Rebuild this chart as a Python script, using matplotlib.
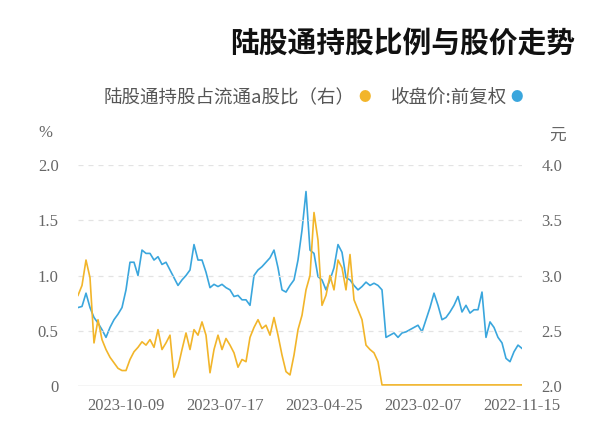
import matplotlib
matplotlib.use("Agg")
import matplotlib.pyplot as plt
import numpy as np

# Chronological data (oldest first); chart is drawn mirrored (time runs right-to-left)
price = [2.34, 2.37, 2.31, 2.22, 2.25, 2.39, 2.44, 2.53, 2.58, 2.44,
         2.85, 2.69, 2.69, 2.66, 2.73, 2.67, 2.81, 2.73, 2.67, 2.62,
         2.60, 2.73, 2.84, 2.71, 2.60, 2.49, 2.55, 2.53, 2.51, 2.49,
         2.48, 2.44, 2.48, 2.46, 2.44, 2.87, 2.91, 2.93, 2.91, 2.94,
         2.90, 2.87, 2.91, 2.96, 2.98, 3.21, 3.28, 3.07, 2.96, 2.87,
         2.96, 2.99, 3.20, 3.23, 3.76, 3.41, 3.14, 2.96, 2.91, 2.85,
         2.87, 3.07, 3.23, 3.16, 3.12, 3.08, 3.05, 3.00, 2.73, 2.78,
         2.78, 2.82, 2.81, 2.87, 2.89, 2.92, 2.90, 2.92, 2.89, 3.03,
         3.14, 3.14, 3.28, 3.05, 3.00, 2.96, 2.91, 2.98, 3.05, 3.12,
         3.10, 3.17, 3.14, 3.20, 3.20, 3.23, 3.00, 3.12, 3.12, 2.87,
         2.71, 2.65, 2.60, 2.53, 2.44, 2.51, 2.57, 2.62, 2.71, 2.84,
         2.72, 2.71]

stake = [0.01] * 36 + [
         0.22, 0.30, 0.33, 0.37, 0.60, 0.69, 0.78, 1.19, 0.87, 1.07,
         1.14, 0.87, 1.00, 0.82, 0.73, 1.32, 1.57, 1.00, 0.87, 0.64,
         0.51, 0.28, 0.10, 0.13, 0.28, 0.46, 0.62, 0.46, 0.55, 0.52,
         0.60, 0.53, 0.44, 0.22, 0.24, 0.17, 0.30, 0.37, 0.43, 0.33,
         0.46, 0.33, 0.12, 0.46, 0.58, 0.46, 0.51, 0.33, 0.48, 0.33,
         0.17, 0.08, 0.46, 0.39, 0.33, 0.51, 0.35, 0.42, 0.37, 0.40,
         0.35, 0.31, 0.24, 0.14, 0.14, 0.16, 0.21, 0.26, 0.33, 0.42,
         0.60, 0.39, 0.98, 1.14, 0.91, 0.82]

date_labels = ["2022-11-15", "2023-02-07", "2023-04-25", "2023-07-17", "2023-10-09"]
left_ticks = [0, 0.5, 1.0, 1.5, 2.0]
left_ticklabels = ["0", "0.5", "1.0", "1.5", "2.0"]
right_ticks = [2.0, 2.5, 3.0, 3.5, 4.0]
right_ticklabels = ["2.0", "2.5", "3.0", "3.5", "4.0"]

title = "陆股通持股比例与股价走势"
legend_price = "收盘价:前复权"
legend_stake = "陆股通持股占流通a股比（右）"

CJK = ["Noto Sans CJK SC", "DejaVu Sans"]
BLUE = "#3aa6dd"
YELLOW = "#f2b52a"
GRID = "#e3e3e3"
LABEL = "#666666"

x = np.arange(len(price))
assert len(price) == len(stake)
tick_step = 24.75
tick_pos = [i * tick_step for i in range(len(date_labels))]

fig = plt.figure(figsize=(6.0, 4.46), dpi=100)
W, H = 600, 446
ax = fig.add_axes([78 / W, (H - 386) / H, 444 / W, 221 / H])
ax2 = ax.twinx()

ax2.plot(x, price, color=BLUE, lw=1.2, solid_joinstyle="round")
ax.plot(x, stake, color=YELLOW, lw=1.2, solid_joinstyle="round")
ax.set_zorder(ax2.get_zorder() + 1)
ax.patch.set_visible(False)

ax.set_xlim(len(price) - 1, 0)
ax.set_ylim(0, 2.0)
ax2.set_ylim(2.0, 4.0)

for a in (ax, ax2):
    for s in a.spines.values():
        s.set_visible(False)
    a.tick_params(length=0)

for yv in left_ticks[1:]:
    ax.axhline(yv, color=GRID, lw=0.9, ls=(0, (4, 4)), zorder=0)
ax.axhline(0, color="#d0d0d0", lw=1.0, zorder=0)

ax.set_yticks(left_ticks)
ax.set_yticklabels(left_ticklabels, family="Liberation Serif", fontsize=12, color=LABEL)
ax.tick_params(axis="y", pad=14)
ax2.set_yticks(right_ticks)
ax2.set_yticklabels(right_ticklabels, family="Liberation Serif", fontsize=12, color=LABEL)
ax2.tick_params(axis="y", pad=14)

ax.set_xticks(tick_pos)
ax.set_xticklabels(date_labels, family="Liberation Serif", fontsize=12, color=LABEL)
ax.tick_params(axis="x", pad=9)

# units
fig.text(45 / W, 1 - 133 / H, "%", family="Liberation Serif", fontsize=12, color=LABEL,
         ha="center", va="center")
fig.text(557 / W, 1 - 135 / H, "元", family=CJK, fontsize=12, color=LABEL,
         ha="center", va="center")

# title (right aligned as in mirrored layout)
fig.text(575 / W, 1 - 43 / H, title, family=CJK, fontsize=20.7, fontweight="bold",
         color="#111111", ha="right", va="center")

# legend
ly = 1 - 98 / H
fig.text(517 / W, ly, "●", family=CJK, fontsize=9, color=BLUE, ha="center", va="center")
fig.text(507 / W, ly, legend_price, family=CJK, fontsize=13.3, color="#555555",
         ha="right", va="center")
fig.text(365 / W, ly, "●", family=CJK, fontsize=9, color=YELLOW, ha="center", va="center")
fig.text(355 / W, ly, legend_stake, family=CJK, fontsize=13.3, color="#555555",
         ha="right", va="center")

fig.savefig("out.png", dpi=100)
